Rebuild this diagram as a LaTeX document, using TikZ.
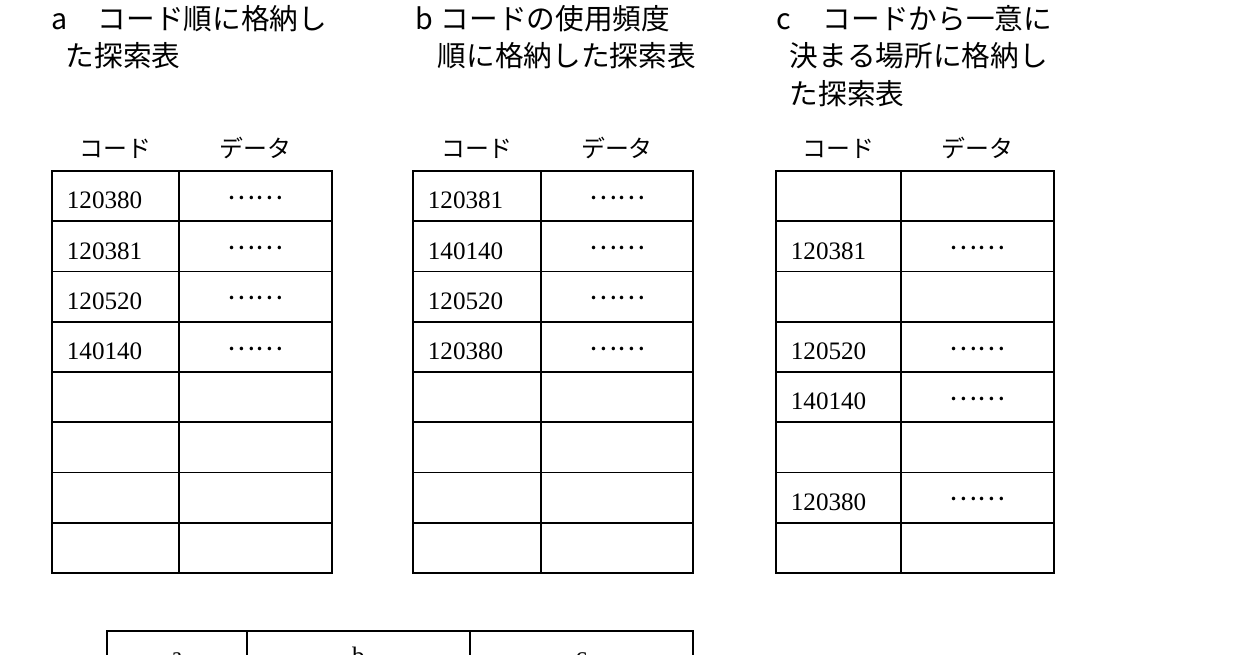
\documentclass[tikz,border=0pt]{standalone}
\usepackage{fontspec}
\newfontfamily\jfont{Noto Sans CJK JP}
\newfontfamily\numfont{Liberation Serif}

\begin{document}
\begin{tikzpicture}[x=0.2mm,y=-0.2mm,line width=1pt,
    every node/.style={inner sep=0pt},
    ttltxt/.style={anchor=base west,font=\jfont\fontsize{16.3}{20}\selectfont},
    headtxt/.style={anchor=base,font=\jfont\fontsize{13.6}{16}\selectfont},
    codetxt/.style={anchor=base west,font=\numfont\fontsize{14.3}{17}\selectfont},
    dotstxt/.style={font=\jfont\fontsize{15}{18}\selectfont}]
          \useasboundingbox (0,0) rectangle (1260,655);
          \clip (0,0) rectangle (1260,655);

          % Titles
          \node[ttltxt] (la) at (51,29.5) {a};
          \node[ttltxt] (ta1) at (97,29.5) {コード順に格納し};
          \node[ttltxt] (ta2) at (65,67) {た探索表};
          \node[ttltxt] (lb) at (415,29.5) {b};
          \node[ttltxt] (tb1) at (440,29.5) {コードの使用頻度};
          \node[ttltxt] (tb2) at (437,67) {順に格納した探索表};
          \node[ttltxt] (lc) at (776,29.5) {c};
          \node[ttltxt] (tc1) at (822,29.5) {コードから一意に};
          \node[ttltxt] (tc2) at (789,67) {決まる場所に格納し};
          \node[ttltxt] (tc3) at (789,104.5) {た探索表};

          % Column heads
          \node[headtxt] (hac) at (115.5,158) {コード};
          \node[headtxt] (had) at (255.5,158) {データ};
          \node[headtxt] (hbc) at (477,158) {コード};
          \node[headtxt] (hbd) at (617,158) {データ};
          \node[headtxt] (hcc) at (838.5,158) {コード};
          \node[headtxt] (hcd) at (977.5,158) {データ};

          % Table a
          \draw (52,171) rectangle (332,573);
          \draw (179,171) -- (179,573);
          \draw (52,221.25) -- (332,221.25) (52,271.5) -- (332,271.5)
                (52,321.75) -- (332,321.75) (52,372) -- (332,372)
                (52,422.25) -- (332,422.25) (52,472.5) -- (332,472.5)
                (52,522.75) -- (332,522.75);
          \node[codetxt] (a1) at (66,209) {120380};
          \node[codetxt] (a2) at (66,259.25) {120381};
          \node[codetxt] (a3) at (66,309.5) {120520};
          \node[codetxt] (a4) at (66,359.75) {140140};
          \node[dotstxt] (da1) at (255.5,198) {……};
          \node[dotstxt] (da2) at (255.5,248.25) {……};
          \node[dotstxt] (da3) at (255.5,298.5) {……};
          \node[dotstxt] (da4) at (255.5,348.75) {……};

          % Table b
          \draw (413,171) rectangle (693,573);
          \draw (541,171) -- (541,573);
          \draw (413,221.25) -- (693,221.25) (413,271.5) -- (693,271.5)
                (413,321.75) -- (693,321.75) (413,372) -- (693,372)
                (413,422.25) -- (693,422.25) (413,472.5) -- (693,472.5)
                (413,522.75) -- (693,522.75);
          \node[codetxt] (b1) at (427,209) {120381};
          \node[codetxt] (b2) at (427,259.25) {140140};
          \node[codetxt] (b3) at (427,309.5) {120520};
          \node[codetxt] (b4) at (427,359.75) {120380};
          \node[dotstxt] (db1) at (617,198) {……};
          \node[dotstxt] (db2) at (617,248.25) {……};
          \node[dotstxt] (db3) at (617,298.5) {……};
          \node[dotstxt] (db4) at (617,348.75) {……};

          % Table c
          \draw (776,171) rectangle (1054,573);
          \draw (901,171) -- (901,573);
          \draw (776,221.25) -- (1054,221.25) (776,271.5) -- (1054,271.5)
                (776,321.75) -- (1054,321.75) (776,372) -- (1054,372)
                (776,422.25) -- (1054,422.25) (776,472.5) -- (1054,472.5)
                (776,522.75) -- (1054,522.75);
          \node[codetxt] (c2) at (790,259.25) {120381};
          \node[codetxt] (c4) at (790,359.75) {120520};
          \node[codetxt] (c5) at (790,410) {140140};
          \node[codetxt] (c7) at (790,510.5) {120380};
          \node[dotstxt] (dc2) at (977.5,248.25) {……};
          \node[dotstxt] (dc4) at (977.5,348.75) {……};
          \node[dotstxt] (dc5) at (977.5,399) {……};
          \node[dotstxt] (dc7) at (977.5,499.5) {……};

          % Answer table (cut off at the bottom)
          \draw (107,631) rectangle (693,681);
          \draw (247,631) -- (247,681) (470,631) -- (470,681);
          \node[anchor=base,font=\numfont\fontsize{14.3}{17}\selectfont] (ka) at (177,664) {a};
          \node[anchor=base,font=\numfont\fontsize{14.3}{17}\selectfont] (kb) at (358.5,664) {b};
          \node[anchor=base,font=\numfont\fontsize{14.3}{17}\selectfont] (kc) at (581.5,664) {c};
        \end{tikzpicture}
\end{document}
